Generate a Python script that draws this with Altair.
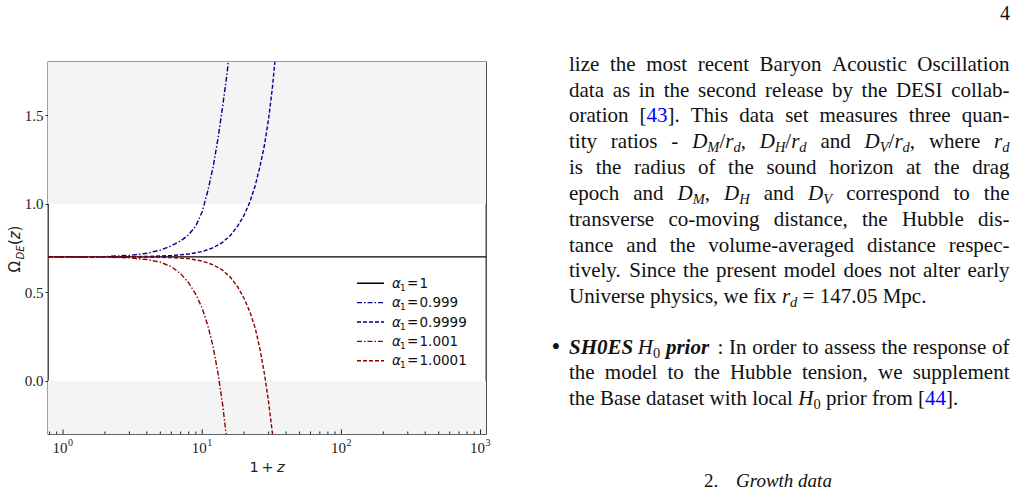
import re
import altair as alt
import pandas as pd

# ---------------- data ----------------
series_names = ["α₁ = 1", "α₁ = 0.999", "α₁ = 0.9999", "α₁ = 1.001", "α₁ = 1.0001"]
series_values = ["1", "0.999", "0.9999", "1.001", "1.0001"]
series_colors = ["#000000", "#00008b", "#00008b", "#8b0000", "#8b0000"]
series_dashes = [[1, 0], [5, 2, 1.5, 2], [4, 2], [5, 2, 1.5, 2], [4, 2]]

x_a1 = [0.78, 1094]
y_a1 = [0.70, 0.70]

x_0999 = [0.78, 1, 1.5, 2, 3, 4, 5, 6, 7, 8, 9, 10, 11, 12, 13, 14, 15, 16]
y_0999 = [0.700, 0.700, 0.700, 0.702, 0.708, 0.720, 0.738, 0.762, 0.790, 0.825,
          0.875, 0.955, 1.075, 1.210, 1.370, 1.545, 1.720, 1.910]

x_09999 = [0.78, 1, 2, 4, 6, 8, 10, 12, 14, 16, 18, 20, 22, 24, 26, 28, 30, 32, 33, 34]
y_09999 = [0.700, 0.700, 0.700, 0.702, 0.707, 0.716, 0.730, 0.752, 0.782, 0.822,
           0.875, 0.935, 1.010, 1.100, 1.210, 1.330, 1.480, 1.660, 1.770, 1.890]

x_1001 = [0.78, 1, 2, 3, 4, 5, 6, 7, 8, 9, 10, 11, 12, 13, 14, 15, 16]
y_1001 = [0.700, 0.700, 0.699, 0.694, 0.685, 0.670, 0.645, 0.605, 0.553, 0.488,
          0.410, 0.310, 0.190, 0.040, -0.130, -0.330, -0.550]

x_10001 = [0.78, 1, 2, 4, 6, 8, 10, 12, 14, 16, 18, 20, 22, 24, 26, 28, 30, 32, 34]
y_10001 = [0.700, 0.700, 0.700, 0.699, 0.696, 0.690, 0.676, 0.655, 0.625, 0.583,
           0.530, 0.465, 0.390, 0.300, 0.180, 0.040, -0.120, -0.300, -0.500]

band_lo = [1.0, -0.3]
band_hi = [1.8, 0.0]

y_tick_values = [0.0, 0.5, 1.0, 1.5]
x_major = [1, 10, 100, 1000]
x_exponents = ["0", "1", "2", "3"]
x_minor = [0.8, 0.9, 2, 3, 4, 5, 6, 7, 8, 9, 20, 30, 40, 50, 60, 70, 80, 90,
           200, 300, 400, 500, 600, 700, 800, 900]

# page text (markup: {i|..} italic, {s|..} italic subscript, {u|..} upright
# subscript, {b|..} bold italic, {c|..} blue reference)
para_lines = [
    "lize the most recent Baryon Acoustic Oscillation",
    "data as in the second release by the DESI collab-",
    "oration [{c|43}]. This data set measures three quan-",
    "tity ratios - {i|D}{s|M}/{i|r}{s|d}, {i|D}{s|H}/{i|r}{s|d} and {i|D}{s|V}/{i|r}{s|d}, where {i|r}{s|d}",
    "is the radius of the sound horizon at the drag",
    "epoch and {i|D}{s|M}, {i|D}{s|H} and {i|D}{s|V} correspond to the",
    "transverse co-moving distance, the Hubble dis-",
    "tance and the volume-averaged distance respec-",
    "tively. Since the present model does not alter early",
    "Universe physics, we fix {i|r}{s|d} = 147.05 Mpc.",
]
bullet_lines = [
    "{b|SH0ES} {i|H}{u|0} {b|prior} : In order to assess the response of",
    "the model to the Hubble tension, we supplement",
    "the Base dataset with local {i|H}{u|0} prior from [{c|44}].",
]
heading_num = "2."
heading_text = "Growth data"
page_number = "4"

# ---------------- layout constants ----------------
W, H = 438, 372
OX, OY = 48, 62
BODY, SUB = 21, 14.5
TEXT_L, TEXT_R = 569, 1009.5

NORMAL_W = {' ': 250, ',': 250, '.': 250, '-': 333, '/': 278, ':': 278, '=': 564,
            '[': 333, ']': 333, '(': 333, ')': 333, '•': 350}
for c in "0123456789":
    NORMAL_W[c] = 500
NORMAL_W.update(dict(zip("ABCDEFGHIJKLMNOPQRSTUVWXYZ",
    [722, 667, 667, 722, 611, 556, 722, 722, 333, 389, 722, 611, 889, 722, 722,
     556, 722, 667, 556, 611, 722, 722, 944, 722, 722, 611])))
NORMAL_W.update(dict(zip("abcdefghijklmnopqrstuvwxyz",
    [444, 500, 444, 500, 444, 333, 500, 500, 278, 278, 500, 278, 778, 500, 500,
     500, 500, 333, 389, 278, 500, 500, 722, 500, 500, 444])))
ITALIC_W = dict(NORMAL_W)
ITALIC_W.update(dict(zip("ABCDEFGHIJKLMNOPQRSTUVWXYZ",
    [611, 611, 667, 722, 611, 611, 722, 722, 333, 444, 667, 556, 833, 667, 722,
     611, 722, 611, 500, 556, 722, 611, 833, 611, 556, 556])))
ITALIC_W.update(dict(zip("abcdefghijklmnopqrstuvwxyz",
    [500, 500, 444, 500, 444, 278, 500, 500, 278, 278, 444, 278, 722, 500, 500,
     500, 500, 389, 389, 278, 500, 444, 667, 444, 444, 389])))


def run_width(style, text):
    fs = SUB if style in ("s", "u") else BODY
    table = ITALIC_W if style in ("i", "s", "b") else NORMAL_W
    k = 1.06 if style == "b" else 1.0
    return sum(table.get(ch, 500) for ch in text) / 1000 * fs * k


def parse(line):
    words = []
    for w in line.split(" "):
        runs, pos = [], 0
        for m in re.finditer(r"\{(\w)\|([^}]*)\}", w):
            if m.start() > pos:
                runs.append(("n", w[pos:m.start()]))
            runs.append((m.group(1), m.group(2)))
            pos = m.end()
        if pos < len(w):
            runs.append(("n", w[pos:]))
        words.append(runs)
    return words


text_rows = []


def set_line(line, baseline, justify):
    words = parse(line)
    widths = [sum(run_width(s, t) for s, t in wd) for wd in words]
    if justify and len(words) > 1:
        gap = (TEXT_R - TEXT_L - sum(widths)) / (len(words) - 1)
    else:
        gap = 0.25 * BODY
    x = TEXT_L
    for wd, ww in zip(words, widths):
        xx = x
        for s, t in wd:
            sub = s in ("s", "u")
            text_rows.append(dict(px=xx - OX, py=baseline - OY + (4 if sub else 0),
                                  txt=t, sty=s, fs=SUB if sub else BODY))
            xx += run_width(s, t)
        x += ww + gap


for k, ln in enumerate(para_lines):
    set_line(ln, 70.7 + k * 25.84, k < len(para_lines) - 1)
for k, ln in enumerate(bullet_lines):
    set_line(ln, 353.5 + k * 25.9, k < len(bullet_lines) - 1)
text_rows.append(dict(px=551.5 - OX, py=354.8 - OY, txt="•", sty="n", fs=25))
text_rows.append(dict(px=704 - OX, py=486.5 - OY, txt=heading_num, sty="n", fs=19))
text_rows.append(dict(px=736 - OX, py=486.5 - OY, txt=heading_text, sty="i", fs=19))
text_rows.append(dict(px=1000 - OX, py=19.5 - OY, txt=page_number, sty="n", fs=20))
text_df = pd.DataFrame(text_rows)

# ---------------- chart frames ----------------
curves = []
for name, xs, ys in [(series_names[0], x_a1, y_a1), (series_names[1], x_0999, y_0999),
                     (series_names[2], x_09999, y_09999), (series_names[3], x_1001, y_1001),
                     (series_names[4], x_10001, y_10001)]:
    for xv, yv in zip(xs, ys):
        curves.append(dict(series=name, x=xv, y=yv))
curve_df = pd.DataFrame(curves)

xscale = alt.Scale(type="log", domain=[0.78, 1094], nice=False)
yscale = alt.Scale(domain=[-0.3, 1.8], nice=False, zero=False)
yaxis = alt.Axis(values=y_tick_values, format=".1f", grid=False, domain=False,
                 tickSize=3, tickColor="#222", tickWidth=1, labelPadding=2,
                 labelFont="Liberation Serif", labelFontSize=15, labelColor="#222",
                 title=None)
cscale = alt.Scale(domain=series_names, range=series_colors)
dscale = alt.Scale(domain=series_names, range=series_dashes)

bands = alt.Chart(pd.DataFrame({"lo": band_lo, "hi": band_hi})).mark_rect(
    color="#f4f4f4").encode(
    y=alt.Y("lo:Q", scale=yscale, axis=yaxis), y2="hi:Q",
    x=alt.value(0), x2=alt.value(W))

lines = alt.Chart(curve_df).mark_line(strokeWidth=1.4, clip=True).encode(
    x=alt.X("x:Q", scale=xscale, axis=None),
    y=alt.Y("y:Q", scale=yscale, axis=yaxis),
    color=alt.Color("series:N", scale=cscale, legend=None),
    strokeDash=alt.StrokeDash("series:N", scale=dscale, legend=None),
    detail="series:N")

minor = alt.Chart(pd.DataFrame({"t": x_minor})).mark_rule(
    color="#222", strokeWidth=1).encode(
    x=alt.X("t:Q", scale=xscale, axis=None), y=alt.value(H), y2=alt.value(H - 2.5))
major = alt.Chart(pd.DataFrame({"t": x_major})).mark_rule(
    color="#222", strokeWidth=1).encode(
    x=alt.X("t:Q", scale=xscale, axis=None), y=alt.value(H), y2=alt.value(H - 4.5))

xlab_df = pd.DataFrame({"t": x_major, "e": x_exponents})
xlab_base = alt.Chart(xlab_df).mark_text(
    align="right", baseline="alphabetic", dx=4.5, font="Liberation Serif",
    fontSize=15, color="#222").encode(
    x=alt.X("t:Q", scale=xscale, axis=None), y=alt.value(391.3), text=alt.value("10"))
xlab_exp = alt.Chart(xlab_df).mark_text(
    align="left", baseline="alphabetic", dx=5, font="Liberation Serif",
    fontSize=10, color="#222").encode(
    x=alt.X("t:Q", scale=xscale, axis=None), y=alt.value(383.5), text="e:N")

# axis titles (math-like pieces)
ttl_rows = [
    dict(px=249.5 - OX, py=471.5 - OY, txt="1", fs=14.5, st="normal", ang=0),
    dict(px=261.5 - OX, py=471.5 - OY, txt="+", fs=14.5, st="normal", ang=0),
    dict(px=277 - OX, py=471.5 - OY, txt="z", fs=14.5, st="italic", ang=0),
    dict(px=20 - OX, py=272.5 - OY, txt="Ω", fs=15, st="normal", ang=270),
    dict(px=23.5 - OX, py=259.5 - OY, txt="DE", fs=10, st="italic", ang=270),
    dict(px=20 - OX, py=245 - OY, txt="(", fs=15, st="normal", ang=270),
    dict(px=20 - OX, py=239.2 - OY, txt="z", fs=15, st="italic", ang=270),
    dict(px=20 - OX, py=231.4 - OY, txt=")", fs=15, st="normal", ang=270),
]
ttl_df = pd.DataFrame(ttl_rows)
title_layers = []
for st in ["normal", "italic"]:
    for ang in [0, 270]:
        sub = ttl_df[(ttl_df.st == st) & (ttl_df.ang == ang)]
        if len(sub) == 0:
            continue
        title_layers.append(alt.Chart(sub).mark_text(
            align="left", baseline="alphabetic", font="DejaVu Sans", fontStyle=st,
            angle=ang, color="#222").encode(
            x=alt.X("px:Q", scale=None, axis=None), y=alt.Y("py:Q", scale=None, axis=None),
            text="txt:N", size=alt.Size("fs:Q", scale=None, legend=None)))

# legend
LEG_FS = 13.5
leg_df = pd.DataFrame({"series": series_names, "val": series_values,
                       "ly": [283.3 - OY + 19.35 * i for i in range(5)]})
leg_lines = alt.Chart(leg_df).mark_rule(strokeWidth=1.4).encode(
    x=alt.value(357 - OX), x2=alt.value(384 - OX),
    y=alt.Y("ly:Q", scale=None, axis=None),
    color=alt.Color("series:N", scale=cscale, legend=None),
    strokeDash=alt.StrokeDash("series:N", scale=dscale, legend=None))
leg_alpha = alt.Chart(leg_df).mark_text(
    align="left", baseline="alphabetic", dy=4.5, font="DejaVu Sans", fontStyle="italic",
    fontSize=LEG_FS, color="#111").encode(
    x=alt.value(392 - OX), y=alt.Y("ly:Q", scale=None, axis=None), text=alt.value("α"))
leg_sub = alt.Chart(leg_df).mark_text(
    align="left", baseline="alphabetic", dy=7.5, font="DejaVu Sans",
    fontSize=9, color="#111").encode(
    x=alt.value(400 - OX), y=alt.Y("ly:Q", scale=None, axis=None), text=alt.value("1"))
leg_eq = alt.Chart(leg_df).mark_text(
    align="left", baseline="alphabetic", dy=4.5, font="DejaVu Sans",
    fontSize=LEG_FS, color="#111").encode(
    x=alt.value(407 - OX), y=alt.Y("ly:Q", scale=None, axis=None), text=alt.value("="))
leg_val = alt.Chart(leg_df).mark_text(
    align="left", baseline="alphabetic", dy=4.5, font="DejaVu Sans",
    fontSize=LEG_FS, color="#111").encode(
    x=alt.value(419.5 - OX), y=alt.Y("ly:Q", scale=None, axis=None), text="val:N")

# page text
page_layers = []
style_groups = [
    (["n", "u"], "normal", "normal", "#111"),
    (["i", "s"], "italic", "normal", "#111"),
    (["b"], "italic", "bold", "#111"),
    (["c"], "normal", "normal", "#0000ff"),
]
for stys, fst, fwt, col in style_groups:
    sub = text_df[text_df.sty.isin(stys)]
    page_layers.append(alt.Chart(sub).mark_text(
        align="left", baseline="alphabetic", font="Liberation Serif",
        fontStyle=fst, fontWeight=fwt, color=col).encode(
        x=alt.X("px:Q", scale=None, axis=None), y=alt.Y("py:Q", scale=None, axis=None),
        text="txt:N", size=alt.Size("fs:Q", scale=None, legend=None)))

chart = alt.layer(
    bands, lines, minor, major, xlab_base, xlab_exp, *title_layers,
    leg_lines, leg_alpha, leg_sub, leg_eq, leg_val, *page_layers
).properties(
    width=W, height=H,
    autosize=alt.AutoSizeParams(type="none"),
    padding={"left": OX, "top": OY, "right": 1017 - OX - W, "bottom": 495 - OY - H},
    background="white",
).configure_view(stroke="#333", strokeWidth=1.3)

chart.save("out.html", embed_options={"renderer": "svg", "actions": False})
